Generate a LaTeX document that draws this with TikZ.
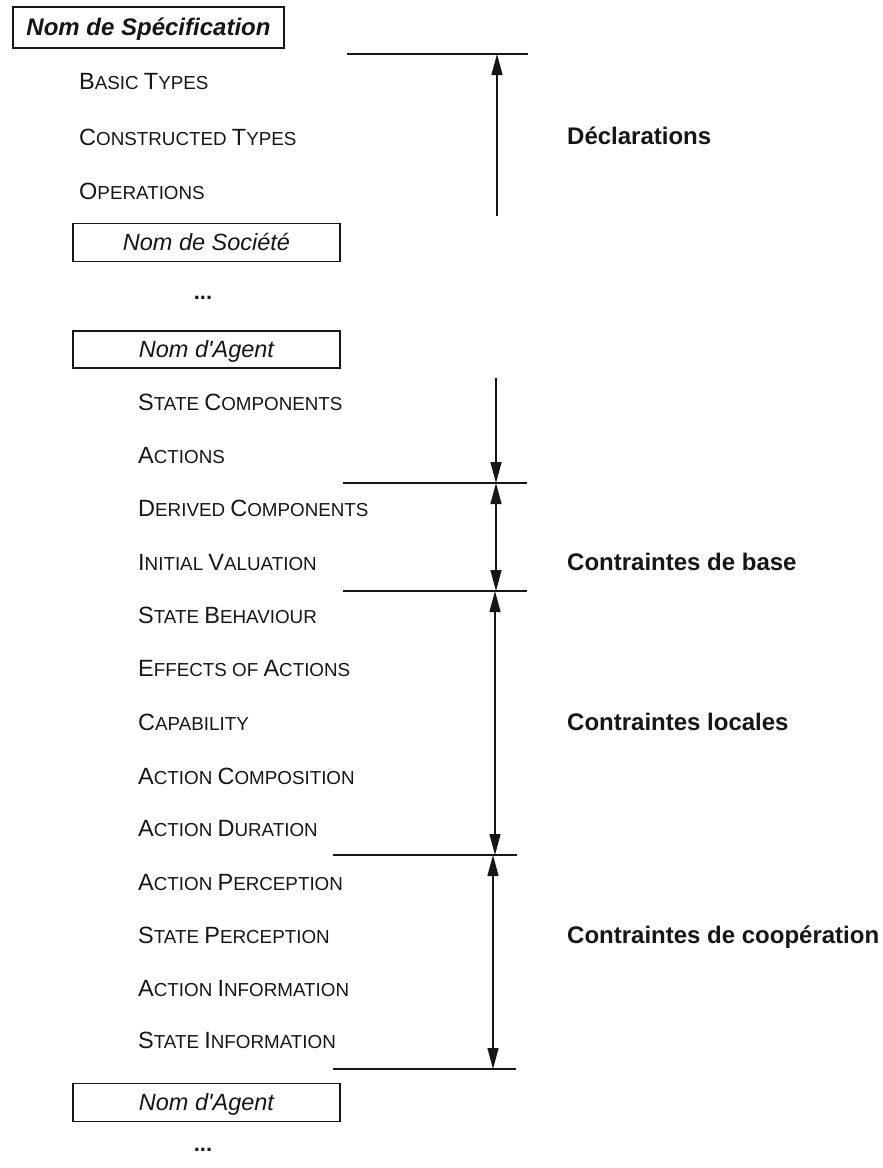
\documentclass[tikz,border=0pt]{standalone}
\usepackage{fontspec}
\setmainfont{Liberation Sans}
\usetikzlibrary{arrows.meta}
\definecolor{ink}{RGB}{22,22,22}
% word in fake small capitals: large initial, smaller capitals after it
\newcommand\capw[2]{{\fontsize{23.5pt}{28pt}\selectfont #1}{\fontsize{18.8pt}{22pt}\selectfont #2}}
\tikzset{
  every node/.style={text=ink},
  namebox/.style={draw=ink, line width=1.9pt, inner sep=0pt, minimum width=267pt,
    minimum height=38pt, text height=16.8pt, text depth=0pt,
    font=\fontsize{23.5pt}{28pt}\selectfont\itshape},
  item/.style={anchor=west, inner sep=0pt, text height=16.8pt, text depth=0pt,
    font=\fontsize{18.8pt}{22pt}\selectfont},
  group/.style={anchor=west, inner sep=0pt, text height=17pt, text depth=0pt,
    font=\fontsize{24pt}{28pt}\selectfont\bfseries},
  ellip/.style={inner sep=0pt, font=\fontsize{22pt}{26pt}\selectfont\bfseries},
  limit/.style={draw=ink, line width=1.1pt},
  tipx/.tip={Triangle[length=21pt, width=11pt]},
  span/.style={draw=ink, line width=1.4pt},
}
\begin{document}
\begin{tikzpicture}[x=1pt, y=-1pt]
\useasboundingbox[fill=white] (0,0) rectangle (883,1168);

% specification header
\node[namebox, minimum width=271pt, minimum height=41pt,
      font=\fontsize{24pt}{28pt}\selectfont\bfseries\itshape] (spec) at (148.5,27.5) {Nom de Spécification};

% declarations
\node[item] (basic) at (79,81)  {\capw{B}{ASIC} \capw{T}{YPES}};
\node[item] (constr) at (79,137) {\capw{C}{ONSTRUCTED} \capw{T}{YPES}};
\node[item] (oper) at (79,191)  {\capw{O}{PERATIONS}};

\node[namebox] (soc) at (206.5,242.5) {Nom de Société};
\node[ellip] (dots1) at (203,298) {...};
\node[namebox, minimum height=37pt] (ag1) at (206.5,349.5) {Nom d\textquotesingle Agent};

% agent sections
\node[item] (i1)  at (138,402)  {\capw{S}{TATE} \capw{C}{OMPONENTS}};
\node[item] (i2)  at (138,455)  {\capw{A}{CTIONS}};
\node[item] (i3)  at (138,508)  {\capw{D}{ERIVED} \capw{C}{OMPONENTS}};
\node[item] (i4)  at (138,562)  {\capw{I}{NITIAL} \capw{V}{ALUATION}};
\node[item] (i5)  at (138,615)  {\capw{S}{TATE} \capw{B}{EHAVIOUR}};
\node[item] (i6)  at (138,668)  {\capw{E}{FFECTS} \capw{}{OF} \capw{A}{CTIONS}};
\node[item] (i7)  at (138,722)  {\capw{C}{APABILITY}};
\node[item] (i8)  at (138,776)  {\capw{A}{CTION} \capw{C}{OMPOSITION}};
\node[item] (i9)  at (138,828)  {\capw{A}{CTION} \capw{D}{URATION}};
\node[item] (i10) at (138,882)  {\capw{A}{CTION} \capw{P}{ERCEPTION}};
\node[item] (i11) at (138,935)  {\capw{S}{TATE} \capw{P}{ERCEPTION}};
\node[item] (i12) at (138,988)  {\capw{A}{CTION} \capw{I}{NFORMATION}};
\node[item] (i13) at (138,1040) {\capw{S}{TATE} \capw{I}{NFORMATION}};

\node[namebox] (ag2) at (206.5,1102.5) {Nom d\textquotesingle Agent};
\node[ellip] (dots2) at (203,1150) {...};

% group labels
\node[group] (gdecl) at (567,136) {Déclarations};
\node[group] (gbase) at (567,562) {Contraintes de base};
\node[group] (gloc)  at (567,722) {Contraintes locales};
\node[group] (gcoop) at (567,935) {Contraintes de coopération};

% limit lines
\coordinate (l0a) at (347,54);   \coordinate (l0b) at (528,54);
\coordinate (l1a) at (343,483);  \coordinate (l1b) at (527,483);
\coordinate (l2a) at (343,591);  \coordinate (l2b) at (527,591);
\coordinate (l3a) at (333,855);  \coordinate (l3b) at (517,855);
\coordinate (l4a) at (333,1069); \coordinate (l4b) at (516,1069);
\draw[limit] (l0a) -- (l0b);
\draw[limit] (l1a) -- (l1b);
\draw[limit] (l2a) -- (l2b);
\draw[limit] (l3a) -- (l3b);
\draw[limit] (l4a) -- (l4b);

% dimension arrows
\coordinate (d0t) at (497,54);   \coordinate (d0b) at (497,216);
\coordinate (d1t) at (496,378);  \coordinate (d1b) at (496,483);
\coordinate (d2t) at (496,483);  \coordinate (d2b) at (496,591);
\coordinate (d3t) at (495,591);  \coordinate (d3b) at (495,855);
\coordinate (d4t) at (493,855);  \coordinate (d4b) at (493,1069);
\draw[span, -tipx] (d0b) -- (d0t);
\draw[span, -tipx] (d1t) -- (d1b);
\draw[span, tipx-tipx] (d2t) -- (d2b);
\draw[span, tipx-tipx] (d3t) -- (d3b);
\draw[span, tipx-tipx] (d4t) -- (d4b);
\end{tikzpicture}
\end{document}
